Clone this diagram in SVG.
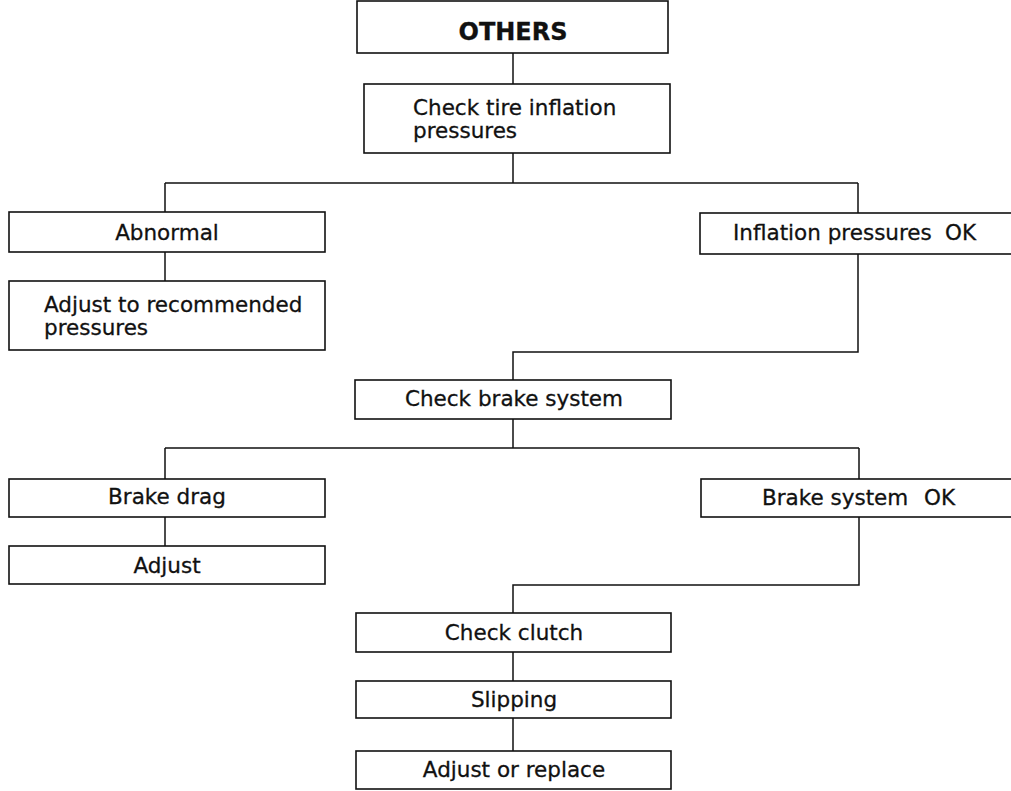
<svg xmlns="http://www.w3.org/2000/svg" width="1011" height="791" viewBox="0 0 1011 791">
<style>
.box{fill:#fff;stroke:#111;stroke-width:1.6}
.ln{fill:none;stroke:#111;stroke-width:1.5}
.t{font-family:"DejaVu Sans",sans-serif;font-size:21.5px;fill:#111;stroke:#111;stroke-width:0.3}
.c{text-anchor:middle}
.b{font-weight:bold;font-size:24px}
</style>
<rect width="1011" height="791" fill="#fff"/>
<g id="connectors">
<path class="ln" d="M513,53 V84"/>
<path class="ln" d="M513,153 V183 M165,183 H858 M165,183 V212 M858,183 V352 H513 V380"/>
<path class="ln" d="M165,252 V281"/>
<path class="ln" d="M513,419 V448 M165,448 H859 M165,448 V479 M859,448 V585 H513 V613"/>
<path class="ln" d="M165,517 V546"/>
<path class="ln" d="M513,652 V681 M513,718 V751"/>
</g>
<g id="others"><rect class="box" x="357" y="1" width="311" height="52"/><text class="t b c" x="513" y="40">OTHERS</text></g>
<g id="check-tire"><rect class="box" x="364" y="84" width="306" height="69"/><text class="t" x="413" y="115">Check tire inflation</text><text class="t" x="413" y="138">pressures</text></g>
<g id="abnormal"><rect class="box" x="9" y="212" width="316" height="40"/><text class="t c" x="167" y="240">Abnormal</text></g>
<g id="adjust-pressures"><rect class="box" x="9" y="281" width="316" height="69"/><text class="t" x="44" y="312">Adjust to recommended</text><text class="t" x="44" y="335">pressures</text></g>
<g id="inflation-ok"><rect class="box" x="700" y="213" width="330" height="41"/><text class="t" x="733" y="240">Inflation pressures</text><text class="t" x="945" y="240">OK</text></g>
<g id="check-brake"><rect class="box" x="355" y="380" width="316" height="39"/><text class="t c" x="514" y="406">Check brake system</text></g>
<g id="brake-drag"><rect class="box" x="9" y="479" width="316" height="38"/><text class="t c" x="167" y="504">Brake drag</text></g>
<g id="adjust"><rect class="box" x="9" y="546" width="316" height="38"/><text class="t c" x="167" y="573">Adjust</text></g>
<g id="brake-ok"><rect class="box" x="701" y="479" width="330" height="38"/><text class="t" x="762" y="505">Brake system</text><text class="t" x="924" y="505">OK</text></g>
<g id="check-clutch"><rect class="box" x="356" y="613" width="315" height="39"/><text class="t c" x="514" y="640">Check clutch</text></g>
<g id="slipping"><rect class="box" x="356" y="681" width="315" height="37"/><text class="t c" x="514" y="707">Slipping</text></g>
<g id="adjust-replace"><rect class="box" x="356" y="751" width="315" height="38"/><text class="t c" x="514" y="777">Adjust or replace</text></g>
</svg>
